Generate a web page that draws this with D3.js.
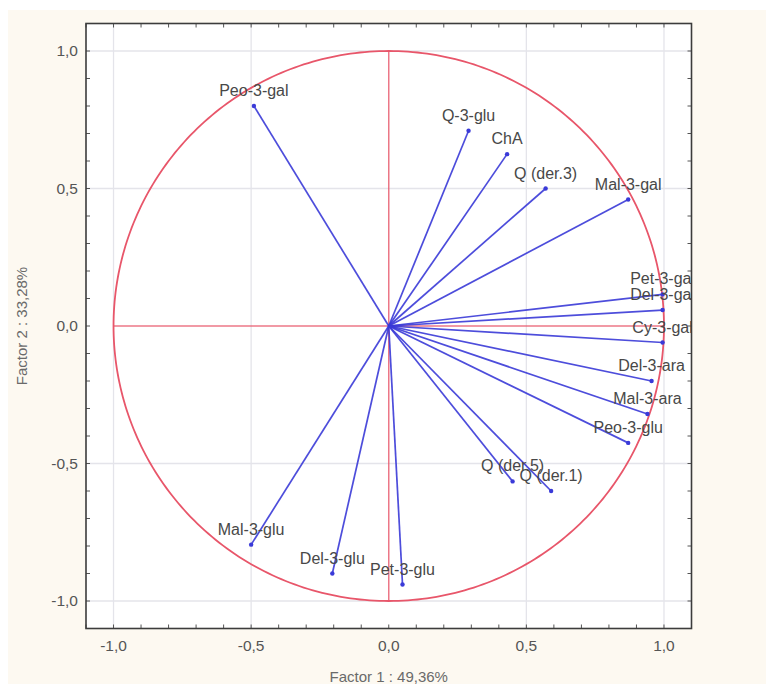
<!DOCTYPE html>
<html>
<head>
<meta charset="utf-8">
<script src="https://cdn.jsdelivr.net/npm/d3@7"></script>
<style>
  html, body { margin: 0; padding: 0; background: #ffffff; }
  svg { display: block; }
  text { font-family: "Liberation Sans", Arial, sans-serif; }
</style>
</head>
<body>
<svg id="chart" width="766" height="684"></svg>
<script>
// ---- data ----
const variables = ["Peo-3-gal", "Q-3-glu", "ChA", "Q (der.3)", "Mal-3-gal",
  "Pet-3-gal", "Del-3-gal", "Cy-3-gal", "Del-3-ara", "Mal-3-ara", "Peo-3-glu",
  "Q (der.5)", "Q (der.1)", "Pet-3-glu", "Del-3-glu", "Mal-3-glu"];
const factor1 = [-0.49, 0.29, 0.43, 0.57, 0.87, 0.995, 0.995, 0.995, 0.955,
  0.94, 0.87, 0.45, 0.59, 0.05, -0.205, -0.50];
const factor2 = [0.80, 0.71, 0.625, 0.50, 0.46, 0.115, 0.058, -0.06, -0.20,
  -0.32, -0.425, -0.565, -0.60, -0.94, -0.90, -0.795];
const tickValues = [-1.0, -0.5, 0.0, 0.5, 1.0];
const tickLabels = ["-1,0", "-0,5", "0,0", "0,5", "1,0"];
const xTitle = "Factor 1 : 49,36%";
const yTitle = "Factor 2 : 33,28%";

// ---- layout ----
const W = 766, H = 684;
const plot = { left: 86, right: 691.5, top: 23.5, bottom: 628.5 };
const svg = d3.select("#chart");

// background
svg.append("rect").attr("x", 0).attr("y", 0).attr("width", W).attr("height", H).attr("fill", "#ffffff");
svg.append("rect").attr("x", 8).attr("y", 10).attr("width", W - 8).attr("height", H - 10).attr("fill", "#fdf9f1");

const x = d3.scaleLinear().domain([-1.1, 1.1]).range([plot.left, plot.right]);
const y = d3.scaleLinear().domain([-1.1, 1.1]).range([plot.bottom, plot.top]);

// plot area
svg.append("rect").attr("x", plot.left).attr("y", plot.top)
  .attr("width", plot.right - plot.left).attr("height", plot.bottom - plot.top)
  .attr("fill", "#ffffff");

svg.append("clipPath").attr("id", "clip").append("rect")
  .attr("x", plot.left).attr("y", plot.top)
  .attr("width", plot.right - plot.left).attr("height", plot.bottom - plot.top);

const g = svg.append("g").attr("clip-path", "url(#clip)");

// grid
const gridVals = tickValues.filter(v => v !== 0);
g.selectAll("line.gx").data(gridVals).join("line")
  .attr("x1", d => x(d)).attr("x2", d => x(d))
  .attr("y1", plot.top).attr("y2", plot.bottom)
  .attr("stroke", "#e4e4ea").attr("stroke-width", 1.3);
g.selectAll("line.gy").data(gridVals).join("line")
  .attr("y1", d => y(d)).attr("y2", d => y(d))
  .attr("x1", plot.left).attr("x2", plot.right)
  .attr("stroke", "#e4e4ea").attr("stroke-width", 1.3);

// red reference lines and unit circle
const red = "#e8566a";
g.append("line").attr("x1", x(-1)).attr("x2", x(1)).attr("y1", y(0)).attr("y2", y(0))
  .attr("stroke", red).attr("stroke-width", 1.5).attr("opacity", 0.8);
g.append("line").attr("x1", x(0)).attr("x2", x(0)).attr("y1", y(-1)).attr("y2", y(1))
  .attr("stroke", red).attr("stroke-width", 1.5).attr("opacity", 0.8);
const circ = d3.range(0, 361, 1).map(a => [Math.cos(a * Math.PI / 180), Math.sin(a * Math.PI / 180)]);
g.append("path")
  .attr("d", d3.line().x(d => x(d[0])).y(d => y(d[1]))(circ))
  .attr("fill", "none").attr("stroke", red).attr("stroke-width", 1.8);

// vectors
const data = variables.map((v, i) => ({ name: v, f1: factor1[i], f2: factor2[i] }));
const blue = "#3a3ad8";
g.selectAll("line.vec").data(data).join("line")
  .attr("x1", x(0)).attr("y1", y(0))
  .attr("x2", d => x(d.f1)).attr("y2", d => y(d.f2))
  .attr("stroke", blue).attr("stroke-width", 1.7).attr("opacity", 0.9);
g.selectAll("circle.pt").data(data).join("circle")
  .attr("cx", d => x(d.f1)).attr("cy", d => y(d.f2)).attr("r", 2.2)
  .attr("fill", blue);

// labels
g.selectAll("text.lab").data(data).join("text")
  .attr("x", d => x(d.f1)).attr("y", d => y(d.f2) - 10)
  .attr("text-anchor", "middle")
  .attr("font-size", 16).attr("fill", "#484848")
  .text(d => d.name);

// ticks (inside, every 0.1)
const minor = d3.range(-11, 12).map(i => i / 10);
const tk = svg.append("g").attr("stroke", "#555").attr("stroke-width", 1);
minor.forEach(v => {
  const len = 4;
  tk.append("line").attr("x1", x(v)).attr("x2", x(v)).attr("y1", plot.bottom).attr("y2", plot.bottom - len);
  tk.append("line").attr("x1", x(v)).attr("x2", x(v)).attr("y1", plot.top).attr("y2", plot.top + len);
  tk.append("line").attr("y1", y(v)).attr("y2", y(v)).attr("x1", plot.left).attr("x2", plot.left + len);
  tk.append("line").attr("y1", y(v)).attr("y2", y(v)).attr("x1", plot.right).attr("x2", plot.right - len);
});

// frame
svg.append("rect").attr("x", plot.left).attr("y", plot.top)
  .attr("width", plot.right - plot.left).attr("height", plot.bottom - plot.top)
  .attr("fill", "none").attr("stroke", "#3c3c3c").attr("stroke-width", 1.6);

// tick labels
svg.selectAll("text.xt").data(tickValues).join("text")
  .attr("x", d => x(d)).attr("y", 651)
  .attr("text-anchor", "middle").attr("font-size", 15.5).attr("fill", "#555")
  .text((d, i) => tickLabels[i]);
svg.selectAll("text.yt").data(tickValues).join("text")
  .attr("x", 78).attr("y", d => y(d)).attr("dy", "0.35em")
  .attr("text-anchor", "end").attr("font-size", 15.5).attr("fill", "#555")
  .text((d, i) => tickLabels[i]);

// axis titles
svg.append("text").attr("x", x(0)).attr("y", 682)
  .attr("text-anchor", "middle").attr("font-size", 15).attr("fill", "#6a6a6a")
  .text(xTitle);
svg.append("text").attr("transform", `translate(27, ${y(0)}) rotate(-90)`)
  .attr("text-anchor", "middle").attr("font-size", 15).attr("fill", "#6a6a6a")
  .text(yTitle);
</script>
</body>
</html>
